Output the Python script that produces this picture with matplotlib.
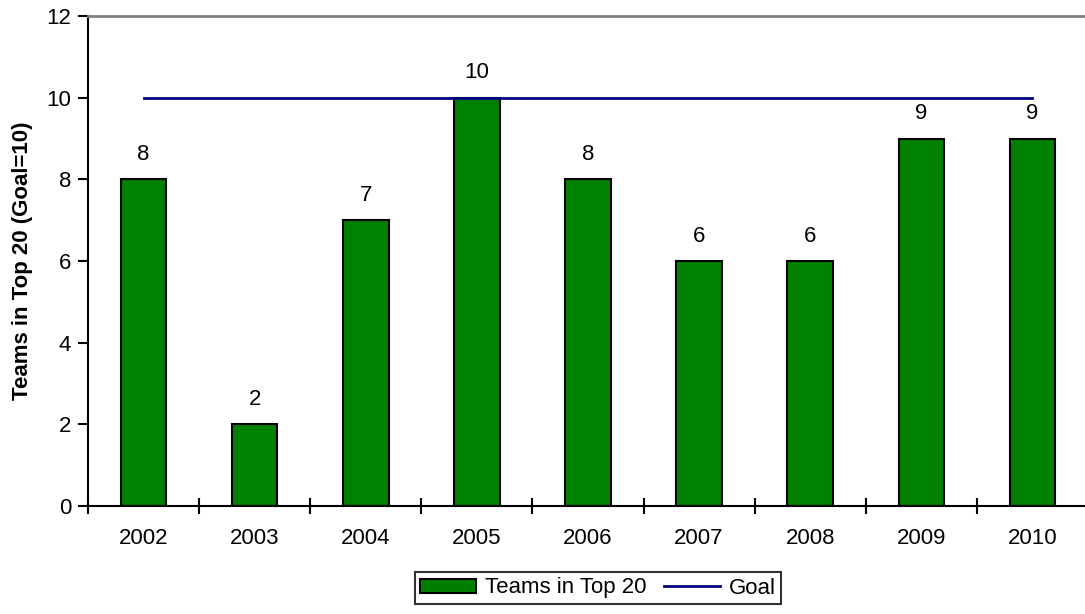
import matplotlib
matplotlib.use("Agg")
import matplotlib.pyplot as plt
from matplotlib.lines import Line2D
from matplotlib.patches import Patch

years = ["2002", "2003", "2004", "2005", "2006", "2007", "2008", "2009", "2010"]
teams = [8, 2, 7, 10, 8, 6, 6, 9, 9]
goal = [10, 10, 10, 10, 10, 10, 10, 10, 10]

plt.rcParams['font.family'] = ['Liberation Sans', 'DejaVu Sans']
FS = 16

fig = plt.figure(figsize=(10.85, 6.14), dpi=100)
ax = fig.add_axes([88/1085, 1 - 506/614, 1000/1085, 490/614])

x = list(range(len(years)))
ax.bar(x, teams, width=0.41, color="#008000", edgecolor="black", linewidth=1.5, zorder=2)
ax.plot(x, goal, color="#000080", linewidth=2, zorder=3)
for xi, v in zip(x, teams):
    ax.annotate(str(v), (xi, v), xytext=(0, 18), textcoords="offset points",
                ha="center", va="center", fontsize=FS)

ax.set_xlim(-0.5, len(years) - 0.5)
ax.set_ylim(0, 12)
ax.set_yticks(range(0, 13, 2))
ax.set_xticks(x)
ax.set_xticklabels(years, fontsize=FS)
ax.tick_params(axis='x', length=0, pad=16)
ax.tick_params(axis='y', labelsize=FS, length=7, width=1.5, direction='out', pad=5)
# boundary ticks crossing the x axis
ax.set_xticks([i - 0.5 for i in range(len(years) + 1)], minor=True)
ax.tick_params(axis='x', which='minor', length=12, width=1.5, direction='inout')

ax.spines['left'].set_linewidth(1.5)
ax.spines['bottom'].set_linewidth(1.5)
ax.spines['top'].set_color('#808080')
ax.spines['top'].set_linewidth(2)
ax.spines['right'].set_visible(False)

ax.set_ylabel("Teams in Top 20 (Goal=10)", fontsize=FS, fontweight='bold', labelpad=10)

handles = [Patch(facecolor="#008000", edgecolor="black", linewidth=1.5, label="Teams in Top 20"),
           Line2D([0], [0], color="#000080", linewidth=2, label="Goal")]
leg = fig.legend(handles=handles, loc='center', bbox_to_anchor=(598/1085, 1 - 588/614),
                 ncol=2, fontsize=FS, frameon=True, fancybox=False, edgecolor='black',
                 handlelength=2.5, handleheight=0.6, handletextpad=0.4, columnspacing=0.8,
                 borderpad=0.25, borderaxespad=0)
leg.get_frame().set_linewidth(1.5)

fig.savefig("out.png", dpi=100)
